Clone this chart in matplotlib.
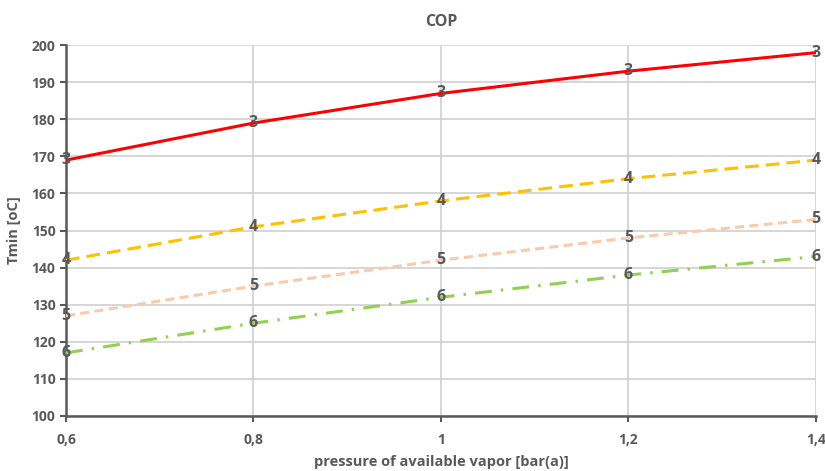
import matplotlib
matplotlib.use('Agg')
import matplotlib.pyplot as plt

plt.rcParams['font.family'] = ['Open Sans', 'DejaVu Sans']

# data
pressure = [0.6, 0.8, 1.0, 1.2, 1.4]
x_ticklabels = ['0,6', '0,8', '1', '1,2', '1,4']
cop3 = [169, 179, 187, 193, 198]
cop4 = [142, 151, 158, 164, 169]
cop5 = [127, 135, 142, 148, 153]
cop6 = [117, 125, 132, 138, 143]
series_names = ['3', '4', '5', '6']

grey = '#595959'
styles = [
    dict(color='#FF0000', linestyle='-'),
    dict(color='#FFC000', linestyle=(0, (4.5, 2.3))),
    dict(color='#F8CBAD', linestyle=(0, (3, 1.7))),
    dict(color='#92D050', linestyle=(0, (5.5, 3, 0.8, 3))),
]

fig = plt.figure(figsize=(8.25, 4.71), dpi=100)
ax = fig.add_axes([0.08, 0.117, 0.909, 0.787])

for vals, name, st in zip([cop3, cop4, cop5, cop6], series_names, styles):
    ax.plot(pressure, vals, lw=2.2, zorder=3, **st)
    for xv, yv in zip(pressure, vals):
        ax.text(xv, yv, name, ha='center', va='center', fontsize=11.5,
                fontweight='bold', color=grey, zorder=4)

ax.set_xlim(0.6, 1.4)
ax.set_ylim(100, 200)
ax.set_xticks(pressure)
ax.set_xticklabels(x_ticklabels)
ax.set_yticks(range(100, 201, 10))
ax.grid(True, color='#D0D0D0', lw=1.2, zorder=0)
ax.set_axisbelow(True)

for s in ['top', 'right']:
    ax.spines[s].set_visible(False)
for s in ['left', 'bottom']:
    ax.spines[s].set_color(grey)
    ax.spines[s].set_linewidth(1.8)

ax.tick_params(axis='both', colors=grey, labelsize=10, length=4, width=1.5)
for lbl in ax.get_xticklabels() + ax.get_yticklabels():
    lbl.set_fontweight('bold')
ax.tick_params(axis='x', pad=8)

ax.set_xlabel('pressure of available vapor [bar(a)]', fontsize=10.5,
              fontweight='bold', color=grey, labelpad=6)
ax.set_ylabel('Tmin [oC]', fontsize=10.5, fontweight='bold', color=grey,
              labelpad=8)
ax.set_title('COP', fontsize=11.5, fontweight='bold', color=grey, pad=14)

fig.savefig('out.png', dpi=100)
